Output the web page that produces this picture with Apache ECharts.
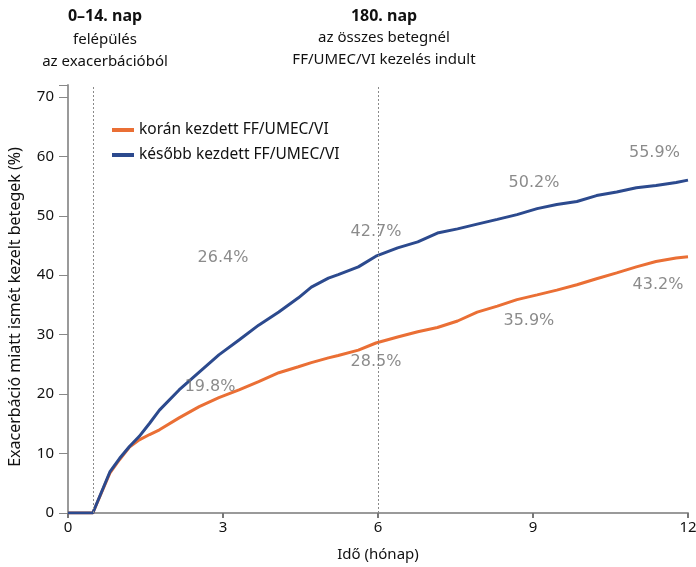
<!DOCTYPE html>
<html>
<head>
<meta charset="utf-8">
<script src="https://cdn.jsdelivr.net/npm/echarts@6/dist/echarts.min.js"></script>
<style>
html,body{margin:0;padding:0;background:#fff;}
#chart{width:696px;height:567px;}
</style>
</head>
<body>
<div id="chart"></div>
<script>
// Time axis (months)
var months = [0, 0.48, 0.81, 1.0, 1.19, 1.38, 1.58, 1.77, 2.15, 2.54, 2.92, 3.31, 3.69, 4.08, 4.46, 4.71, 5.04, 5.23, 5.62, 5.96, 6.38, 6.77, 7.15, 7.54, 7.92, 8.31, 8.69, 9.08, 9.46, 9.85, 10.23, 10.62, 11.0, 11.38, 11.77, 12.0];
// korán kezdett FF/UMEC/VI
var early = [0, 0, 6.7, 9.0, 11.1, 12.3, 13.2, 14.0, 16.0, 17.9, 19.4, 20.7, 22.1, 23.6, 24.6, 25.3, 26.1, 26.5, 27.4, 28.6, 29.6, 30.5, 31.2, 32.3, 33.8, 34.8, 35.9, 36.7, 37.5, 38.4, 39.4, 40.4, 41.4, 42.3, 42.9, 43.1];
// később kezdett FF/UMEC/VI
var late = [0, 0, 6.9, 9.2, 11.2, 12.9, 15.1, 17.3, 20.7, 23.7, 26.6, 29.1, 31.6, 33.8, 36.2, 38.0, 39.5, 40.1, 41.4, 43.2, 44.6, 45.6, 47.1, 47.8, 48.6, 49.4, 50.2, 51.2, 51.9, 52.4, 53.4, 54.0, 54.7, 55.1, 55.6, 56.0];
var seriesNames = ['korán kezdett FF/UMEC/VI', 'később kezdett FF/UMEC/VI'];
// Value annotations (text, month, value position)
var annoText = ['26.4%', '19.8%', '42.7%', '28.5%', '50.2%', '35.9%', '55.9%', '43.2%'];
var annoX = [3.0, 2.75, 5.96, 5.96, 9.02, 8.92, 11.35, 11.42];
var annoY = [42.9, 21.2, 47.3, 25.4, 55.6, 32.3, 60.6, 38.4];
// Reference time points (months)
var refLines = [0.48, 6];
var xTicks = [0, 3, 6, 9, 12];
var yTicks = [0, 10, 20, 30, 40, 50, 60, 70];

var FONT = 'Noto Sans';
function pairs(xs, ys) { return xs.map(function (x, i) { return [x, ys[i]]; }); }

var chart = echarts.init(document.getElementById('chart'), null, {renderer: 'canvas'});
chart.setOption({
  animation: false,
  backgroundColor: '#ffffff',
  textStyle: {fontFamily: FONT},
  title: [
    {text: '0–14. nap', left: 100, top: 3, textAlign: 'center',
      textStyle: {fontFamily: FONT, fontSize: 16, fontWeight: 'bold', color: '#111'}},
    {text: 'felépülés\naz exacerbációból', left: 100, top: 24, textAlign: 'center',
      textStyle: {fontFamily: FONT, fontSize: 15, fontWeight: 'normal', color: '#111', lineHeight: 22}},
    {text: '180. nap', left: 379, top: 3, textAlign: 'center',
      textStyle: {fontFamily: FONT, fontSize: 16, fontWeight: 'bold', color: '#111'}},
    {text: 'az összes betegnél\nFF/UMEC/VI kezelés indult', left: 379, top: 22, textAlign: 'center',
      textStyle: {fontFamily: FONT, fontSize: 15, fontWeight: 'normal', color: '#111', lineHeight: 22}}
  ],
  legend: {
    data: seriesNames,
    orient: 'vertical',
    left: 107,
    top: 117,
    itemGap: 9,
    itemWidth: 22,
    itemHeight: 4,
    icon: 'rect',
    textStyle: {fontFamily: FONT, fontSize: 15.5, color: '#111'}
  },
  grid: {left: 68, right: 8, top: 85, bottom: 54, containLabel: false, outerBoundsMode: 'none'},
  xAxis: {
    type: 'value', min: 0, max: 12, interval: 3,
    name: 'Idő (hónap)', nameLocation: 'middle', nameGap: 34,
    nameTextStyle: {fontFamily: FONT, fontSize: 15, color: '#111'},
    axisLine: {lineStyle: {color: '#9a9a9a', width: 2}},
    axisTick: {show: true, length: 5, lineStyle: {color: '#777', width: 2}},
    axisLabel: {fontFamily: FONT, fontSize: 15, color: '#111', margin: 7},
    splitLine: {show: false}
  },
  yAxis: {
    type: 'value', min: 0, max: 72, interval: 10,
    name: 'Exacerbáció miatt ismét kezelt betegek (%)', nameLocation: 'middle', nameGap: 45,
    nameRotate: 90,
    nameTextStyle: {fontFamily: FONT, fontSize: 16, color: '#111', padding: [0, 16, 0, 0]},
    axisLine: {show: true, lineStyle: {color: '#9a9a9a', width: 2}},
    axisTick: {show: true, length: 9, lineStyle: {color: '#888', width: 1}},
    axisLabel: {fontFamily: FONT, fontSize: 15, color: '#111', margin: 14,
      formatter: function (v) { return yTicks.indexOf(v) >= 0 ? String(v) : ''; }},
    splitLine: {show: false}
  },
  series: [
    {
      name: seriesNames[0], type: 'line', data: pairs(months, early),
      showSymbol: false, symbol: 'none', z: 3,
      color: '#ea6f35',
      lineStyle: {color: '#ea6f35', width: 3},
      markLine: {
        silent: true, symbol: 'none', label: {show: false},
        lineStyle: {color: '#8a8a8a', type: [2, 2], width: 1},
        data: refLines.map(function (x) { return [{coord: [x, 0]}, {coord: [x, 72]}]; })
      }
    },
    {
      name: seriesNames[1], type: 'line', data: pairs(months, late),
      showSymbol: false, symbol: 'none', z: 4,
      color: '#2c4a8e',
      lineStyle: {color: '#2c4a8e', width: 3}
    },
    {
      name: 'annotations', type: 'scatter', symbolSize: 0, z: 5,
      data: annoText.map(function (t, i) { return {name: t, value: [annoX[i], annoY[i]]}; }),
      label: {show: true, position: 'inside', formatter: '{b}',
        fontFamily: 'DejaVu Sans', fontSize: 16, color: '#6e6e6e'},
      silent: true
    }
  ]
});
</script>
</body>
</html>
